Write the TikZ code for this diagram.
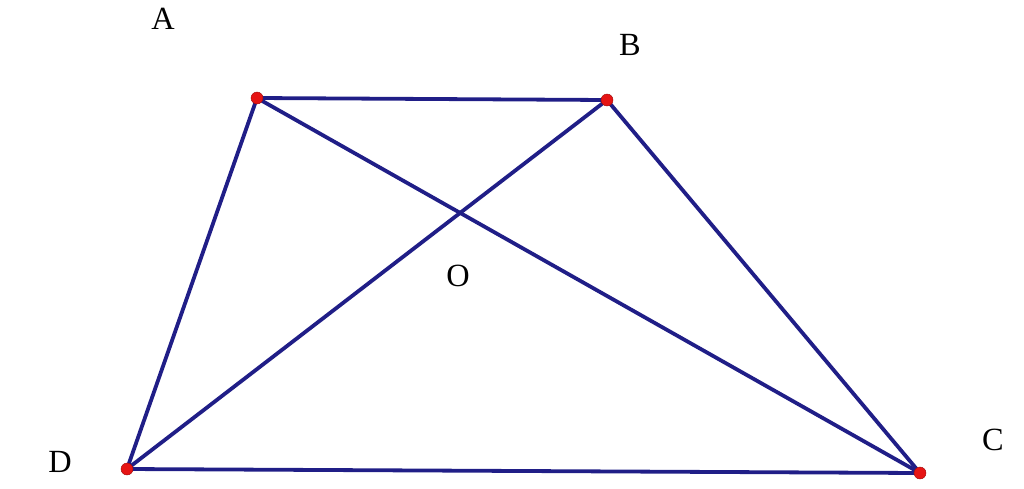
\documentclass[tikz,border=0pt]{standalone}
\usepackage{fontspec}
\setmainfont{Liberation Serif}
\definecolor{edgeblue}{RGB}{32,30,135}
\definecolor{ptred}{RGB}{230,20,20}
\begin{document}
\begin{tikzpicture}[x=0.025cm,y=-0.025cm,
  edge/.style={draw=edgeblue,line width=2.7pt,line cap=round,line join=round},
  pt/.style={circle,fill=ptred,draw=ptred!70!black,line width=0.3pt,inner sep=0pt,minimum size=0.3cm},
  lbl/.style={font=\fontsize{23}{26}\selectfont,inner sep=0pt}]
\useasboundingbox (0,0) rectangle (1024,488);
\coordinate (A) at (257,98);
\coordinate (B) at (607,100);
\coordinate (C) at (920,473);
\coordinate (D) at (127,469);
\draw[edge] (A) -- (B) -- (C) -- (D) -- cycle;
\draw[edge] (A) -- (C);
\draw[edge] (B) -- (D);
\node[pt] (pA) at (A) {};
\node[pt] (pB) at (B) {};
\node[pt] (pC) at (C) {};
\node[pt] (pD) at (D) {};
\node[lbl] (lA) at (163,19) {A};
\node[lbl] (lB) at (630,45) {B};
\node[lbl] (lC) at (993,440) {C};
\node[lbl] (lD) at (60,462) {D};
\node[lbl] (lO) at (458,276) {O};
\end{tikzpicture}
\end{document}
